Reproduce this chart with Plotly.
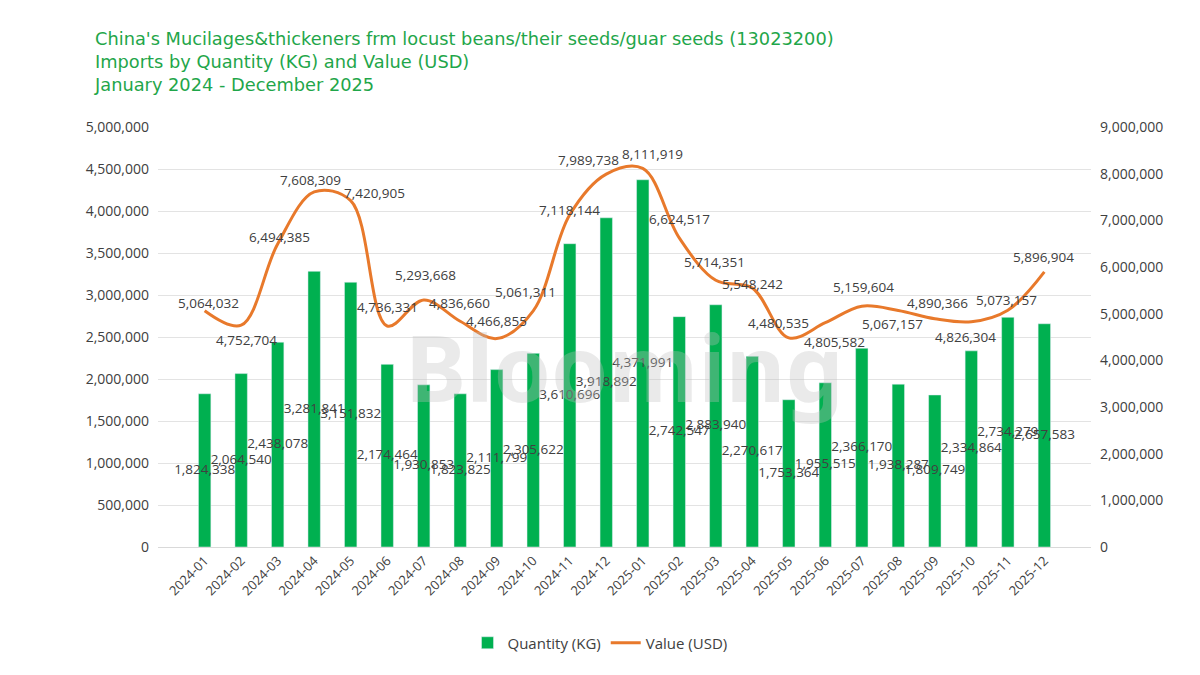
import plotly.graph_objects as go

months = ["2024-01","2024-02","2024-03","2024-04","2024-05","2024-06","2024-07","2024-08",
          "2024-09","2024-10","2024-11","2024-12","2025-01","2025-02","2025-03","2025-04",
          "2025-05","2025-06","2025-07","2025-08","2025-09","2025-10","2025-11","2025-12"]
quantity_kg = [1824338, 2064540, 2438078, 3281841, 3151832, 2174464, 1930853, 1823825,
               2111799, 2305622, 3610696, 3918892, 4371991, 2742547, 2883940, 2270617,
               1753364, 1955515, 2366170, 1938287, 1809749, 2334864, 2734279, 2657583]
value_usd = [5064032, 4752704, 6494385, 7608309, 7420905, 4736331, 5293668, 4836660,
             4466855, 5061311, 7118144, 7989738, 8111919, 6624517, 5714351, 5548242,
             4480535, 4805582, 5159604, 5067157, 4890366, 4826304, 5073157, 5896904]
left_ticks = [0, 500000, 1000000, 1500000, 2000000, 2500000, 3000000, 3500000, 4000000, 4500000, 5000000]
right_ticks = [0, 1000000, 2000000, 3000000, 4000000, 5000000, 6000000, 7000000, 8000000, 9000000]

# label offsets (pixels) for the value labels, mimicking the reference placement
label_dx = [4, 5, 2, -4, 24, 0, 2, -1, 0, -8, 0, -18, 10, 0, -1, 0, -10, 9, 2, -6, 3, -6, -1, -1]
label_dy = [8, -15, 7, 12, 8, 19, 25, 18, 18, 19, 5, 14, 14, 19, 18, 4, 15, -19, 19, -13, 16, -15, 10, 15]

GREEN = "#00B050"
ORANGE = "#E8792B"
FONT = "Open Sans"
TXT = "#404040"

fig = go.Figure()
fig.add_trace(go.Bar(x=months, y=quantity_kg, name="Quantity (KG)", marker_color=GREEN,
                     yaxis="y", width=0.34))
fig.add_trace(go.Scatter(x=months, y=value_usd, name="Value (USD)", mode="lines",
                         line=dict(color=ORANGE, width=3, shape="spline", smoothing=1.0),
                         yaxis="y2"))
fig.add_trace(go.Scatter(x=months, y=[q / 2 for q in quantity_kg], mode="text",
                         text=[f"{q:,}" for q in quantity_kg], textposition="middle center",
                         textfont=dict(family=FONT, size=13.5, color=TXT),
                         showlegend=False, yaxis="y", hoverinfo="skip", cliponaxis=False))

for m, v, dx, dy in zip(months, value_usd, label_dx, label_dy):
    fig.add_annotation(x=m, y=v, xref="x", yref="y2", text=f"{v:,}", showarrow=False,
                       xshift=dx, yshift=dy, font=dict(family=FONT, size=13.5, color=TXT))

fig.add_annotation(text="<b>Blooming</b>", x=0.5, y=0.43, xref="paper", yref="paper",
                   showarrow=False, font=dict(family="Noto Sans", size=92, color="rgba(190,190,190,0.33)"))

fig.update_layout(
    width=1200, height=675,
    paper_bgcolor="white", plot_bgcolor="white",
    margin=dict(l=158, r=109, t=127, b=128),
    font=dict(family=FONT, size=13, color="#595959"),
    title=dict(
        text="China's Mucilages&thickeners frm locust beans/their seeds/guar seeds (13023200)<br>"
             "Imports by Quantity (KG) and Value (USD)<br>January 2024 - December 2025",
        x=95/1200, xanchor="left", y=1-45/675, yanchor="top",
        font=dict(family="DejaVu Sans", size=17.8, color="#1FA64A")),
    xaxis=dict(type="category", tickangle=-45, showgrid=False, showline=True,
               linecolor="#d9d9d9", ticks="", tickfont=dict(size=13, color="#404040")),
    yaxis=dict(range=[0, 5000000], tickvals=left_ticks, tickformat=",d", showgrid=True,
               gridcolor="#e3e3e3", zeroline=False, ticks="", ticklabelstandoff=8,
               tickfont=dict(size=14, color="#404040")),
    yaxis2=dict(range=[0, 9000000], tickvals=right_ticks, tickformat=",d", overlaying="y",
                side="right", showgrid=False, zeroline=False, ticks="", ticklabelstandoff=8,
                tickfont=dict(size=14, color="#404040")),
    legend=dict(orientation="h", x=0.5, xanchor="center", xref="container",
                y=1-643/675, yref="container", yanchor="middle",
                font=dict(size=15, color="#404040")),
    bargap=0.66,
)

fig.write_html("out.html")
